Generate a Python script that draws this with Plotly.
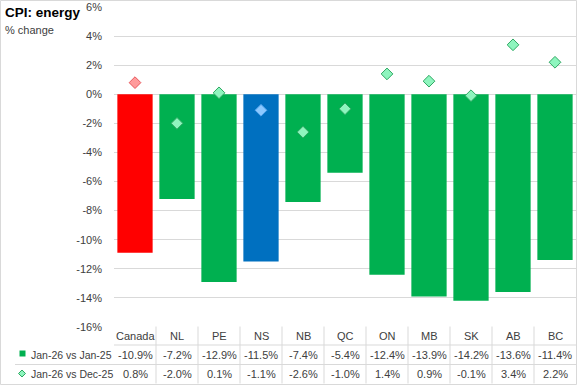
import plotly.graph_objects as go

categories = ["Canada", "NL", "PE", "NS", "NB", "QC", "ON", "MB", "SK", "AB", "BC"]
yoy = [-10.9, -7.2, -12.9, -11.5, -7.4, -5.4, -12.4, -13.9, -14.2, -13.6, -11.4]
mom = [0.8, -2.0, 0.1, -1.1, -2.6, -1.0, 1.4, 0.9, -0.1, 3.4, 2.2]
series_names = ["Jan-26 vs Jan-25", "Jan-26 vs Dec-25"]
title = "CPI: energy"
subtitle = "% change"
y_ticks = list(range(-16, 7, 2))

# styles
BAR_DEFAULT = "#00B050"
BAR_HIGHLIGHT = {"Canada": "#FF0000", "NS": "#0070C0"}
DIA_DEFAULT = ("#8EF5BE", "#2EA862")
DIA_HIGHLIGHT = {"Canada": ("#FF9B9B", "#E8585C"), "NS": ("#8CC8FF", "#5AA8F0")}
GRID = "#D9D9D9"
TXT = "#404040"
FONT = "Liberation Sans"

W_PX, H_PX = 577, 385
L, R, T, B = 114, 1, 7, 58
PW = W_PX - L - R
PH = H_PX - T - B


def px(x):
    return (x - L) / PW


def py(y):
    return (T + PH - y) / PH


bar_colors = [BAR_HIGHLIGHT.get(c, BAR_DEFAULT) for c in categories]
dia_fill = [DIA_HIGHLIGHT.get(c, DIA_DEFAULT)[0] for c in categories]
dia_line = [DIA_HIGHLIGHT.get(c, DIA_DEFAULT)[1] for c in categories]

fig = go.Figure()
fig.add_trace(go.Bar(x=categories, y=yoy, marker=dict(color=bar_colors, line=dict(width=0)),
                     name=series_names[0], hoverinfo="skip"))
fig.add_trace(go.Scatter(x=categories, y=mom, mode="markers", name=series_names[1],
                         marker=dict(symbol="diamond", size=9, color=dia_fill,
                                     line=dict(color=dia_line, width=1)),
                         hoverinfo="skip"))

annotations = []
shapes = []

# title
annotations.append(dict(text="<b>" + title + "</b>", xref="paper", yref="paper",
                        x=px(3), y=py(12.5), xanchor="left", yanchor="middle", showarrow=False,
                        font=dict(family=FONT, size=13.5, color="#000000")))
annotations.append(dict(text=subtitle, xref="paper", yref="paper",
                        x=px(3), y=py(30), xanchor="left", yanchor="middle", showarrow=False,
                        font=dict(family=FONT, size=11, color=TXT)))

# data table
row_y = [336, 354.5, 373.5]
for i, c in enumerate(categories):
    annotations.append(dict(text=c, xref="x", yref="paper", x=c, y=py(row_y[0]),
                            xanchor="center", yanchor="middle", showarrow=False,
                            font=dict(family=FONT, size=11, color=TXT)))
    annotations.append(dict(text=f"{yoy[i]:.1f}%", xref="x", yref="paper", x=c, y=py(row_y[1]),
                            xanchor="center", yanchor="middle", showarrow=False,
                            font=dict(family=FONT, size=11, color=TXT)))
    annotations.append(dict(text=f"{mom[i]:.1f}%", xref="x", yref="paper", x=c, y=py(row_y[2]),
                            xanchor="center", yanchor="middle", showarrow=False,
                            font=dict(family=FONT, size=11, color=TXT)))

for k, name in enumerate(series_names):
    annotations.append(dict(text=name, xref="paper", yref="paper", x=px(29), y=py(row_y[k + 1]),
                            xanchor="left", yanchor="middle", showarrow=False,
                            font=dict(family=FONT, size=10.5, color=TXT)))

# legend keys
shapes.append(dict(type="rect", xref="paper", yref="paper", x0=px(19.5), x1=px(25.5),
                   y0=py(356.5), y1=py(350.5), fillcolor=BAR_DEFAULT, line=dict(width=0)))
cx, cy, r = 22, 373.5, 3.5
path = (f"M {px(cx)} {py(cy - r)} L {px(cx + r)} {py(cy)} L {px(cx)} {py(cy + r)} "
        f"L {px(cx - r)} {py(cy)} Z")
shapes.append(dict(type="path", xref="paper", yref="paper", path=path,
                   fillcolor=DIA_DEFAULT[0], line=dict(color=DIA_DEFAULT[1], width=1)))

# table lines
for i in range(len(categories) - 1):
    shapes.append(dict(type="line", xref="x", yref="paper", x0=i + 0.5, x1=i + 0.5,
                       y0=py(326.5), y1=py(383.5), line=dict(color=GRID, width=1)))
shapes.append(dict(type="line", xref="paper", yref="paper", x0=0, x1=1,
                   y0=py(345), y1=py(345), line=dict(color=GRID, width=1)))
shapes.append(dict(type="line", xref="paper", yref="paper", x0=px(15), x1=1,
                   y0=py(364.5), y1=py(364.5), line=dict(color=GRID, width=1)))
# outer border
shapes.append(dict(type="rect", xref="paper", yref="paper", x0=px(0.5), x1=px(576.5),
                   y0=py(384.5), y1=py(0.5), line=dict(color=GRID, width=1),
                   fillcolor="rgba(0,0,0,0)"))

fig.update_layout(
    width=W_PX, height=H_PX,
    margin=dict(l=L, r=R, t=T, b=B, pad=0),
    paper_bgcolor="white", plot_bgcolor="white",
    showlegend=False, bargap=0.16,
    font=dict(family=FONT, size=11, color=TXT),
    annotations=annotations, shapes=shapes,
    xaxis=dict(type="category", showticklabels=False, showgrid=False, zeroline=False,
               showline=False, ticks="", range=[-0.5, len(categories) - 0.5], fixedrange=True),
    yaxis=dict(range=[y_ticks[0], y_ticks[-1]], tickvals=y_ticks,
               ticktext=[f"{v}%" for v in y_ticks], showgrid=True, gridcolor=GRID, gridwidth=1,
               zeroline=False, showline=False, ticks="", ticklabelstandoff=11,
               tickfont=dict(family=FONT, size=11, color=TXT), fixedrange=True),
)

fig.write_html("out.html", config={"displayModeBar": False},
               post_script="document.body.style.margin='0';document.body.style.overflow='hidden';")
